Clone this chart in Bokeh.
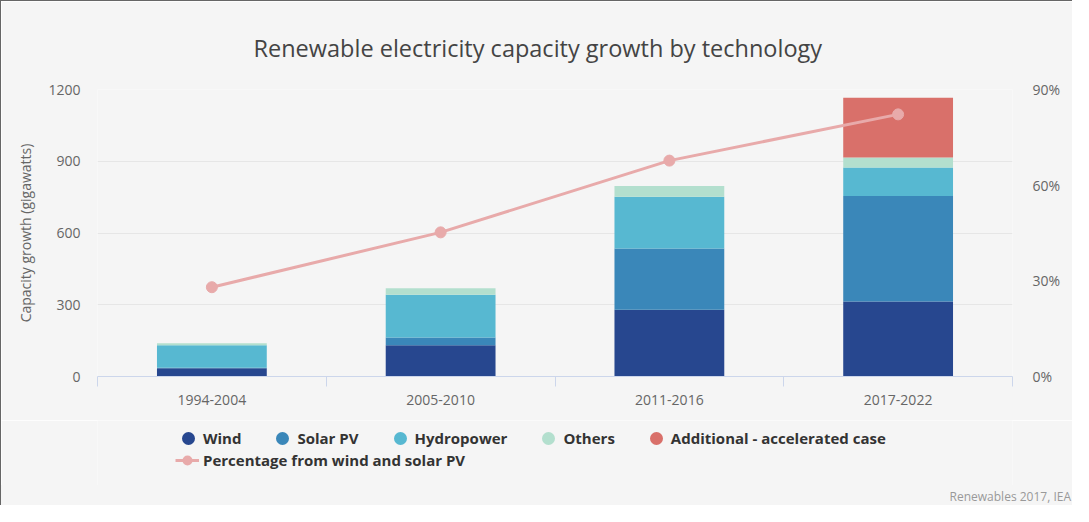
from bokeh.plotting import figure
from bokeh.layouts import column
from bokeh.models import (ColumnDataSource, Range1d, LinearAxis, FixedTicker,
                          Legend, LegendItem, Div)
from bokeh.embed import file_html
from bokeh.resources import INLINE

# ---- data ----
periods = ["1994-2004", "2005-2010", "2011-2016", "2017-2022"]
wind = [35, 131, 279, 314]
solar_pv = [2, 32, 256, 441]
hydropower = [94, 179, 217, 119]
others = [8, 27, 45, 42]
additional = [0, 0, 0, 250]
pct_wind_solar = [28.0, 45.2, 67.7, 82.2]
y_ticks = [0, 300, 600, 900, 1200]
pct_ticks = [0, 30, 60, 90]
series_names = ["Wind", "Solar PV", "Hydropower", "Others", "Additional - accelerated case"]
series_keys = ["wind", "solar_pv", "hydropower", "others", "additional"]
series_colors = ["#27478f", "#3a87b9", "#57b8d1", "#b3dfce", "#d9706a"]
line_name = "Percentage from wind and solar PV"
line_color = "#e8aaaa"
title_text = "Renewable electricity capacity growth by technology"
credit_text = "Renewables 2017, IEA"

FONT = "Open Sans"
BG = "#f5f5f5"
W = 1072
NAN = float("nan")

xs = [i + 0.5 for i in range(len(periods))]
bounds = list(range(len(periods) + 1))

src = ColumnDataSource(dict(x=xs, wind=wind, solar_pv=solar_pv, hydropower=hydropower,
                            others=others, additional=additional, pct=pct_wind_solar))

p = figure(width=W, height=420, output_backend="svg", toolbar_location=None,
           x_range=Range1d(0, len(periods)), y_range=Range1d(0, 1200),
           min_border_left=96, min_border_right=61, min_border_top=88, min_border_bottom=45,
           background_fill_color=BG, border_fill_color=BG, outline_line_color=None)
p.styles = {"border-left": "1px solid #666", "border-top": "1px solid #666"}
p.extra_y_ranges = {"pct": Range1d(0, 90)}

# title
p.title.text = title_text
p.title.align = "left"
p.title.offset = 156
p.title.standoff = 52
p.title.text_font = FONT
p.title.text_font_size = "23.5px"
p.title.text_font_style = "normal"
p.title.text_color = "#444444"

p.vbar_stack(series_keys, x="x", width=0.48, source=src,
             fill_color=series_colors, line_color=series_colors, line_width=0)

p.line("x", "pct", source=src, y_range_name="pct", line_color=line_color, line_width=3)
p.scatter("x", "pct", source=src, y_range_name="pct", marker="circle", size=11,
          fill_color=line_color, line_color=line_color)

# x axis
xa = p.xaxis[0]
xa.ticker = FixedTicker(ticks=xs, minor_ticks=bounds)
xa.major_label_overrides = {x: lab for x, lab in zip(xs, periods)}
xa.major_tick_line_color = None
xa.major_tick_out = 0
xa.minor_tick_in = 0
xa.minor_tick_out = 10
xa.minor_tick_line_color = "#ccd6eb"
xa.axis_line_color = "#ccd6eb"
xa.major_label_standoff = 8
xa.major_label_text_font = FONT
xa.major_label_text_font_size = "14px"
xa.major_label_text_color = "#666666"

# left axis
ya = p.yaxis[0]
ya.ticker = FixedTicker(ticks=y_ticks)
ya.axis_line_color = None
ya.major_tick_line_color = None
ya.minor_tick_line_color = None
ya.major_tick_out = 0
ya.major_label_standoff = 17
ya.major_label_text_font = FONT
ya.major_label_text_font_size = "14px"
ya.major_label_text_color = "#666666"
ya.axis_label = "Capacity growth (gigawatts)"
ya.axis_label_text_font = FONT
ya.axis_label_text_font_size = "14px"
ya.axis_label_text_font_style = "normal"
ya.axis_label_text_color = "#666666"
ya.axis_label_standoff = 10

# right axis
ra = LinearAxis(y_range_name="pct", ticker=FixedTicker(ticks=pct_ticks))
ra.major_label_overrides = {t: f"{t}%" for t in pct_ticks}
ra.axis_line_color = None
ra.major_tick_line_color = None
ra.minor_tick_line_color = None
ra.major_tick_out = 0
ra.major_label_standoff = 20
ra.major_label_text_font = FONT
ra.major_label_text_font_size = "14px"
ra.major_label_text_color = "#666666"
p.add_layout(ra, "right")

p.xgrid.grid_line_color = None
p.ygrid.ticker = FixedTicker(ticks=y_ticks)
p.ygrid.grid_line_color = "#e6e6e6"

# ---- legend strip (separate figure below the chart) ----
lg = figure(width=W, height=65, output_backend="svg", toolbar_location=None,
            x_range=Range1d(0, 1), y_range=Range1d(0, 1),
            x_axis_location=None, y_axis_location=None, min_border=0,
            background_fill_color=BG, border_fill_color=BG, outline_line_color=None)
lg.styles = {"border-left": "1px solid #666"}
lg.grid.visible = False

proxies = [lg.scatter(x=[NAN], y=[NAN], marker="circle", fill_color=c, line_color=c,
                      line_width=5) for c in series_colors]
leg1 = Legend(items=[LegendItem(label=n, renderers=[d]) for n, d in zip(series_names, proxies)],
              orientation="horizontal", location=(81, 37),
              glyph_width=20, glyph_height=20, label_standoff=5, spacing=31,
              padding=0, margin=0, border_line_color=None, background_fill_alpha=0,
              label_text_font=FONT, label_text_font_size="15px",
              label_text_font_style="bold", label_text_color="#333333")
lg.add_layout(leg1, "center")

dl = lg.line(x=[NAN], y=[NAN], line_color=line_color, line_width=3)
dc = lg.scatter(x=[NAN], y=[NAN], marker="circle", fill_color=line_color,
                line_color=line_color, line_width=2)
leg2 = Legend(items=[LegendItem(label=line_name, renderers=[dl, dc])],
              orientation="horizontal", location=(78, 15),
              glyph_width=24, glyph_height=20, label_standoff=4,
              padding=0, margin=0, border_line_color=None, background_fill_alpha=0,
              label_text_font=FONT, label_text_font_size="15px",
              label_text_font_style="bold", label_text_color="#333333")
lg.add_layout(leg2, "center")

credit = Div(text=credit_text, width=W, height=20, margin=(0, 0, 0, 0),
             styles={"background-color": BG, "border-left": "1px solid #666",
                     "color": "#999999", "font-family": "Open Sans", "font-size": "12px",
                     "text-align": "right", "box-sizing": "border-box",
                     "padding-right": "1px", "padding-top": "3px"})

layout = column(p, lg, credit, spacing=0)
open("out.html", "w").write(file_html(layout, INLINE))
